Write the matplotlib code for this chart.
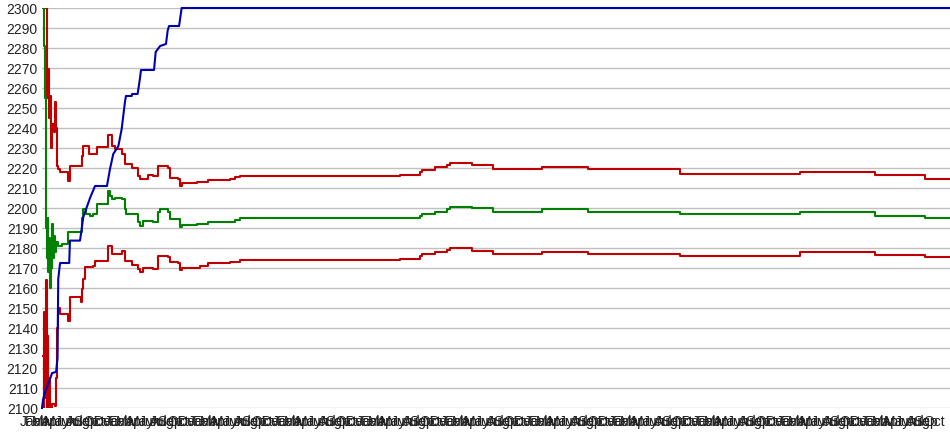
import matplotlib
matplotlib.use('Agg')
import matplotlib.pyplot as plt
import numpy as np

plt.rcParams['font.family'] = ['Liberation Sans', 'DejaVu Sans']

# x positions are in months from the start of the series
months = ['Jan', 'Feb', 'Mar', 'Apr', 'May', 'Jun', 'Jul', 'Aug', 'Sep', 'Oct', 'Nov', 'Dec']
n_months = 130
x_end = 129.7

blue_t = [0, 0.14, 0.43, 1.14, 1.44, 2.01, 2.22, 2.32, 2.58, 3.89, 3.99, 5.43, 5.90, 6.86, 7.57,
          9.28, 9.71, 10.18, 10.91, 11.38, 11.85, 11.99, 12.82, 12.86, 13.66, 14.00, 14.14, 16.00,
          16.24, 16.87, 17.71, 17.95, 18.15, 19.58, 19.95, 129.7]
blue_v = [2100, 2104, 2108, 2114.5, 2117.5, 2118, 2125, 2164.5, 2172.5, 2172.5, 2183.7, 2183.7,
          2195.5, 2205, 2211, 2211, 2219.5, 2227, 2231, 2239.5, 2253, 2256, 2256, 2257, 2257,
          2265, 2269, 2269, 2278, 2281, 2282, 2288.7, 2291, 2291, 2300, 2300]

mid_t = [0.14, 0.29, 0.43, 0.55, 0.67, 0.79, 0.90, 1.02, 1.14, 1.26, 1.38, 1.49, 1.61, 1.73,
         1.85, 2.01, 2.28, 2.85, 3.72, 5.43, 5.70, 5.90, 6.29, 6.86, 7.29, 7.82, 8.30, 9.48, 9.71,
         9.97, 10.44, 11.38, 11.85, 11.99, 13.66, 14.00, 14.43, 15.87, 16.61, 16.87, 18.01, 18.28,
         19.72, 19.95, 22.10, 23.71, 26.86, 27.58, 28.29, 54.01, 54.24, 56.15, 57.82, 58.29, 61.40,
         64.48, 71.40, 78.01, 91.16, 108.31, 119.02, 126.18, 129.7]
mid_v = [2300, 2281, 2255, 2190, 2175, 2195, 2168, 2185, 2160, 2180, 2170, 2192, 2175, 2186,
         2178, 2183, 2181, 2182, 2188, 2188, 2195, 2199.5, 2197, 2196, 2197, 2202, 2202, 2208.7,
         2206, 2204.5, 2205, 2204.5, 2199.5, 2197, 2192.8, 2191, 2193.5, 2193, 2198, 2199.5,
         2198, 2194.5, 2190.5, 2191.5, 2192, 2193, 2193.2, 2194.2, 2194.8, 2195.8, 2197, 2198,
         2199.5, 2200.7, 2199.8, 2198, 2199.5, 2198, 2197, 2198, 2196, 2195, 2195]

up_t = [0.20, 0.67, 0.79, 0.90, 1.02, 1.14, 1.26, 1.38, 1.57, 1.73, 1.85, 2.01, 2.10, 2.16,
        2.28, 2.58, 3.72, 3.99, 5.43, 5.66, 5.90, 6.39, 6.68, 7.29, 7.82, 9.28, 9.48, 9.97, 10.44,
        11.38, 11.85, 12.82, 13.66, 14.00, 15.20, 15.87, 16.61, 18.01, 18.28, 19.42, 19.72, 19.95,
        22.10, 23.71, 26.86, 27.58, 28.29, 48.29, 51.15, 54.01, 54.24, 56.15, 57.82, 58.29, 61.40,
        64.48, 71.40, 78.01, 91.16, 108.31, 119.02, 126.18, 129.7]
up_v = [2300, 2255, 2262, 2269.5, 2245, 2256, 2230, 2242, 2242, 2238, 2253, 2240, 2230, 2221,
        2219.5, 2218, 2213.7, 2221, 2221, 2226, 2231, 2231, 2227, 2227, 2230.3, 2230.3, 2236.5,
        2231, 2229.5, 2227, 2222, 2220, 2216, 2214.5, 2216.5, 2216, 2221, 2220, 2215, 2214.5,
        2211, 2212.5, 2212.8, 2214.2, 2214.5, 2215.3, 2215.8, 2216.2, 2216.5, 2217.8, 2219.2,
        2220.3, 2221.5, 2222.5, 2221.5, 2219.5, 2220.5, 2219.5, 2217, 2218, 2216.5, 2214.5, 2214.5]

low_t = [0.14, 0.24, 0.33, 0.43, 0.55, 0.67, 0.79, 0.90, 1.02, 1.14, 1.38, 1.85, 2.01, 2.16,
         2.28, 2.46, 2.58, 3.44, 3.72, 3.99, 5.43, 5.54, 5.66, 5.90, 6.13, 7.29, 7.57, 8.57, 9.48,
         9.97, 11.38, 11.85, 12.82, 13.66, 14.00, 14.43, 15.87, 16.61, 18.01, 18.28, 19.42, 19.72,
         19.95, 22.57, 23.71, 26.86, 28.29, 51.15, 54.01, 54.24, 56.15, 57.82, 58.29, 61.40, 64.48,
         71.40, 78.01, 91.16, 108.31, 119.02, 126.18, 129.7]
low_v = [2126, 2100, 2148, 2105, 2164, 2100, 2136, 2102, 2115, 2100, 2102, 2101, 2115, 2140,
         2148.7, 2150, 2147, 2147, 2143.6, 2155.7, 2155.7, 2153, 2159.5, 2164.5, 2170.3, 2171,
         2173.7, 2173.7, 2181, 2177, 2178.5, 2173.7, 2171.7, 2169.5, 2167.8, 2170, 2169.5, 2176,
         2175.5, 2172.8, 2172.5, 2168.8, 2170, 2171, 2172.5, 2173, 2174, 2174.5, 2175.8, 2177,
         2178, 2179, 2179.8, 2178.7, 2177, 2178, 2177, 2176, 2178, 2176.5, 2175.5, 2175.5]

W, H = 950, 435
fig = plt.figure(figsize=(W / 100, H / 100), dpi=100)
ax = fig.add_axes([42 / W, (H - 409) / H, 908 / W, 400 / H])

red = '#c00000'
ax.plot(up_t, up_v, drawstyle='steps-post', color=red, lw=1.5)
ax.plot(low_t, low_v, drawstyle='steps-post', color=red, lw=1.5)
ax.plot(mid_t, mid_v, drawstyle='steps-post', color='#008000', lw=1.5)
ax.plot(blue_t, blue_v, color='#0000b0', lw=1.5, clip_on=False)

ax.set_xlim(0, x_end)
ax.set_ylim(2100, 2300)
ax.set_yticks(np.arange(2100, 2301, 10))
ax.set_xticks(np.arange(n_months))
ax.set_xticklabels([months[i % 12] for i in range(n_months)], ha='right')
ax.grid(axis='y', color='#c0c0c0', lw=1)
ax.set_axisbelow(True)
for s in ax.spines.values():
    s.set_visible(False)
ax.tick_params(length=0, labelsize=10, labelcolor='#222222')
ax.tick_params(axis='y', pad=3)
ax.tick_params(axis='x', pad=4)

fig.savefig('out.png', dpi=100)
